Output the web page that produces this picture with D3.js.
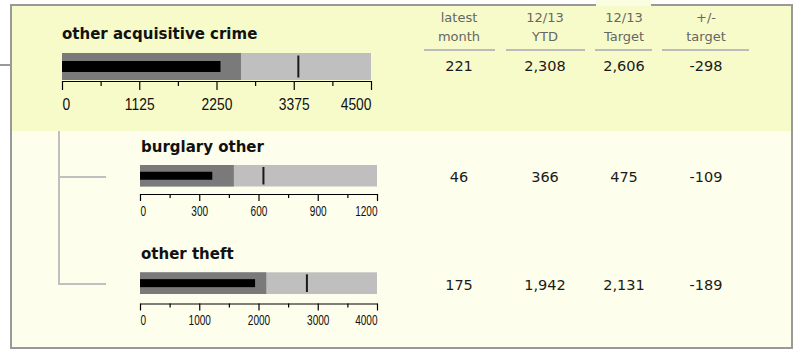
<!DOCTYPE html>
<html>
<head>
<meta charset="utf-8">
<script src="https://cdn.jsdelivr.net/npm/d3@7/dist/d3.min.js"></script>
<style>
  html, body { margin: 0; padding: 0; background: #fff; }
  svg { display: block; }
</style>
</head>
<body>
<svg id="chart" width="798" height="350"></svg>
<script>
// ---------- data ----------
const categories   = ["other acquisitive crime", "burglary other", "other theft"];
const latestMonth  = [221, 46, 175];
const ytd          = [2308, 366, 1942];
const target       = [2606, 475, 2131];
const plusMinus    = [-298, -109, -189];
const markerValues = [3442, 625, 2817];
const axisMax      = [4500, 1200, 4000];
const tickCount    = 8; // intervals
const headerLine1  = ["latest", "12/13", "12/13", "+/-"];
const headerLine2  = ["month", "YTD", "Target", "target"];

// ---------- layout ----------
const W = 798, H = 350;
const svg = d3.select("#chart");
const colCenters = [459, 545, 624, 706];
const colLines = [[424, 495], [506, 585], [595, 652], [662, 749]];

const rowsLayout = [
  { x0: 62,  x1: 371, titleX: 62,  titleY: 39,  barY: 53,  barH: 27,  measH: 11, markInset: 2.5, axisY: 81,  major: 9, minor: 5, labelY: 29, font: 16.5, sx: 0.84, valY: 70.5 },
  { x0: 140, x1: 377, titleX: 141, titleY: 152, barY: 165, barH: 21.5, measH: 8, markInset: 2, axisY: 194, major: 7, minor: 4, labelY: 21.7, font: 14.8, sx: 0.68, valY: 182 },
  { x0: 140, x1: 377, titleX: 141, titleY: 258.5, barY: 272.3, barH: 21.7, measH: 8, markInset: 2, axisY: 303.5, major: 7, minor: 4, labelY: 21.7, font: 14.8, sx: 0.68, valY: 290 }
];

// backgrounds
svg.append("rect").attr("x", 0).attr("y", 0).attr("width", W).attr("height", H).attr("fill", "#ffffff");
svg.append("rect").attr("x", 12).attr("y", 6).attr("width", 779).attr("height", 125).attr("fill", "#f7fbca");
svg.append("rect").attr("x", 12).attr("y", 131).attr("width", 779).attr("height", 216).attr("fill", "#fefeec");

// border with gap above the Target column
const border = svg.append("g").attr("stroke", "#999").attr("stroke-width", 2).attr("fill", "none");
border.append("path").attr("d", "M11,4 V348 H792 V4");
border.append("path").attr("d", "M10,5 H596");
border.append("path").attr("d", "M651,5 H793");
svg.append("rect").attr("x", 596).attr("y", 0).attr("width", 55).attr("height", 6).attr("fill", "#fbfde0");

// connector stub left of the box
svg.append("line").attr("x1", 0).attr("x2", 10).attr("y1", 65).attr("y2", 65)
  .attr("stroke", "#999").attr("stroke-width", 2);

// tree lines
const tree = svg.append("g").attr("stroke", "#c0c0c0").attr("stroke-width", 2).attr("fill", "none");
tree.append("path").attr("d", "M59,131 V285");
tree.append("path").attr("d", "M58,177 H106");
tree.append("path").attr("d", "M58,284 H106");

// column headers
const hdr = svg.append("g").attr("font-family", "DejaVu Sans, Verdana, sans-serif")
  .attr("font-size", 13).attr("fill", "#666").attr("text-anchor", "middle");
headerLine1.forEach((t, i) => {
  hdr.append("text").attr("x", colCenters[i]).attr("y", 22).text(t);
  hdr.append("text").attr("x", colCenters[i]).attr("y", 41).text(headerLine2[i]);
  svg.append("line").attr("x1", colLines[i][0]).attr("x2", colLines[i][1])
    .attr("y1", 50).attr("y2", 50).attr("stroke", "#bbb").attr("stroke-width", 2);
});

const fmt = d3.format(",");

categories.forEach((name, r) => {
  const L = rowsLayout[r];
  const x = d3.scaleLinear().domain([0, axisMax[r]]).range([L.x0, L.x1]);
  const g = svg.append("g");

  // title
  g.append("text").attr("x", L.titleX).attr("y", L.titleY)
    .attr("font-family", "DejaVu Sans, Verdana, sans-serif").attr("font-weight", "bold")
    .attr("font-size", 15).attr("fill", "#111").text(name);

  // ranges
  g.append("rect").attr("x", x(0)).attr("y", L.barY).attr("width", x(axisMax[r]) - x(0)).attr("height", L.barH).attr("fill", "#bfbfbf");
  g.append("rect").attr("x", x(0)).attr("y", L.barY).attr("width", x(target[r]) - x(0)).attr("height", L.barH).attr("fill", "#7a7a7a");
  // measure
  const mc = L.barY + L.barH / 2;
  g.append("rect").attr("x", x(0)).attr("y", mc - L.measH / 2).attr("width", x(ytd[r]) - x(0)).attr("height", L.measH).attr("fill", "#000");
  // marker
  g.append("line").attr("x1", x(markerValues[r])).attr("x2", x(markerValues[r]))
    .attr("y1", L.barY + L.markInset).attr("y2", L.barY + L.barH - L.markInset)
    .attr("stroke", "#1a1a1a").attr("stroke-width", 2);

  // axis
  const ticks = d3.range(0, tickCount + 1).map(i => axisMax[r] * i / tickCount);
  const axis = d3.axisBottom(x).tickValues(ticks).tickSize(L.major).tickSizeOuter(0)
    .tickFormat((d, i) => i % 2 === 0 ? String(d) : "");
  const ag = g.append("g").attr("transform", `translate(0,${L.axisY})`).call(axis);
  ag.select(".domain").attr("stroke", "#000").attr("stroke-width", 1.2);
  ag.selectAll(".tick line").attr("stroke", "#000").attr("stroke-width", 1.2)
    .attr("y2", (d, i) => i % 2 === 0 ? L.major : L.minor);
  ag.selectAll(".tick text")
    .attr("font-family", "Liberation Sans, Arial, sans-serif")
    .attr("font-size", L.font).attr("fill", "#111")
    .attr("y", L.labelY).attr("dy", 0)
    .attr("transform", `scale(${L.sx},1)`)
    .attr("text-anchor", (d, i) => i === 0 ? "start" : (i === tickCount ? "end" : "middle"));

  // values
  const vals = [latestMonth[r], ytd[r], target[r], plusMinus[r]];
  vals.forEach((v, i) => {
    g.append("text").attr("x", colCenters[i]).attr("y", L.valY)
      .attr("font-family", "DejaVu Sans, Verdana, sans-serif").attr("font-size", 14.5)
      .attr("fill", "#1a1a1a").attr("text-anchor", "middle")
      .text(v < 0 ? "-" + fmt(-v) : fmt(v));
  });
});
</script>
</body>
</html>
